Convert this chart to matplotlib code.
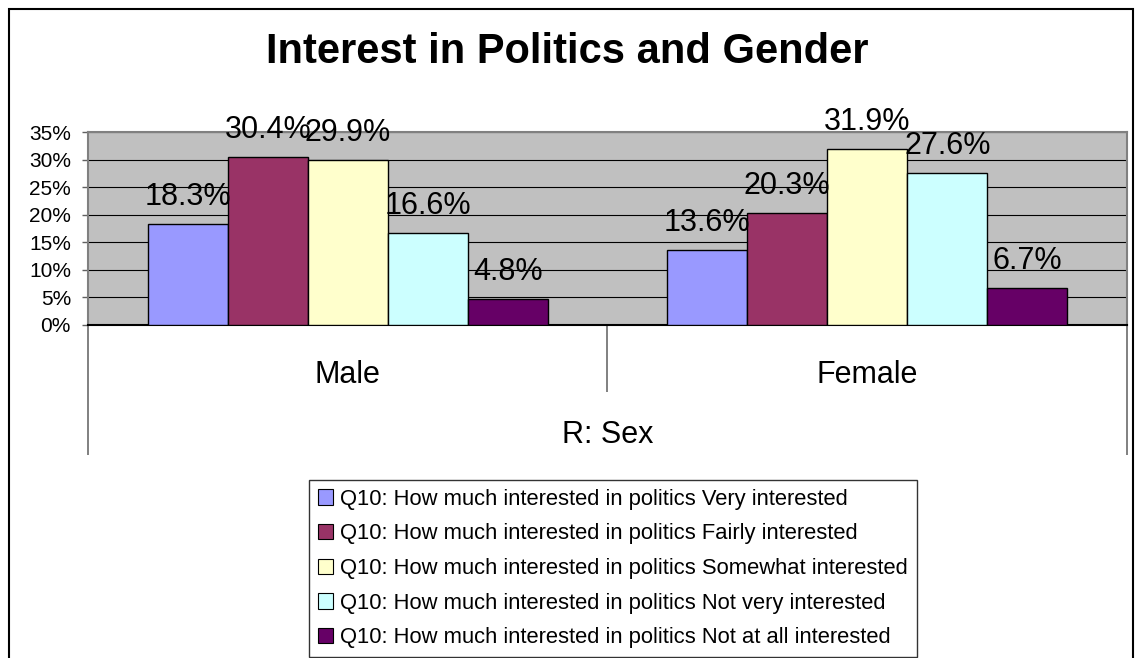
import numpy as np
import matplotlib
matplotlib.use('Agg')
import matplotlib.pyplot as plt
from matplotlib.patches import Rectangle, Patch

plt.rcParams['font.family'] = ['Liberation Sans', 'DejaVu Sans']

groups = ["Male", "Female"]
series = ["Q10: How much interested in politics Very interested",
          "Q10: How much interested in politics Fairly interested",
          "Q10: How much interested in politics Somewhat interested",
          "Q10: How much interested in politics Not very interested",
          "Q10: How much interested in politics Not at all interested"]
very = [18.3, 13.6]
fairly = [30.4, 20.3]
somewhat = [29.9, 31.9]
notvery = [16.6, 27.6]
notatall = [4.8, 6.7]
values = [very, fairly, somewhat, notvery, notatall]
colors = ["#9999FF", "#993366", "#FFFFCC", "#CCFFFF", "#660066"]
yticks = [0, 5, 10, 15, 20, 25, 30, 35]

fig = plt.figure(figsize=(11.35, 6.58), dpi=100)
ax = fig.add_axes([0.07753, 0.50608, 0.91542, 0.29331])
ax.set_facecolor("#C0C0C0")

x = np.arange(len(groups))
w = 0.154
for i, (vals, c) in enumerate(zip(values, colors)):
    pos = x + (i - 2) * w
    ax.bar(pos, vals, w, color=c, edgecolor="black", linewidth=1.0, zorder=3)
    for p, v in zip(pos, vals):
        ax.annotate("%.1f%%" % v, (p, v), xytext=(0, 13.7), textcoords="offset points",
                    ha="center", va="baseline", fontsize=22, zorder=4)

ax.set_xlim(-0.5, 1.5)
ax.set_ylim(0, 35)
ax.set_yticks(yticks)
ax.set_yticklabels(["%d%%" % t for t in yticks], fontsize=15)
ax.yaxis.grid(True, color="black", linewidth=0.8)
ax.set_axisbelow(True)
ax.tick_params(axis="y", direction="out", length=4.3, width=1, color="#606060", pad=8)

ax.set_xticks(x)
ax.set_xticklabels(groups, fontsize=22)
ax.tick_params(axis="x", length=0, pad=25)

for s in ["top", "right", "left"]:
    ax.spines[s].set_color("#808080")
    ax.spines[s].set_linewidth(1.5)
ax.spines["bottom"].set_color("black")
ax.spines["bottom"].set_linewidth(1.5)

# multi-level category dividers
tr = ax.get_xaxis_transform()
ax.vlines([0.5], -0.347, 0, transform=tr, clip_on=False, color="#808080", linewidth=1.4)
ax.vlines([-0.5, 1.5], -0.674, 0, transform=tr, clip_on=False, color="#808080", linewidth=1.4)

ax.annotate("R: Sex", (0.5, 0), xycoords="axes fraction", xytext=(0, -85),
            textcoords="offset points", ha="center", va="baseline", fontsize=22)

fig.text(0.5, 1 - 52 / 658, "Interest in Politics and Gender", ha="center", va="center",
         fontsize=30, fontweight="bold")

handles = [Patch(facecolor=c, edgecolor="black", linewidth=0.8) for c in colors]
leg = fig.legend(handles, series, loc="upper center", bbox_to_anchor=(0.540, 1 - 480 / 658),
                 fontsize=15.8, frameon=True, fancybox=False, edgecolor="black",
                 handlelength=0.7, handleheight=0.7, handletextpad=0.3, labelspacing=0.62,
                 borderpad=0.4, borderaxespad=0)
leg.get_frame().set_linewidth(1.0)

fig.add_artist(Rectangle((9 / 1135, -0.05), 1124 / 1135, 1 - 9 / 658 + 0.05,
                         transform=fig.transFigure, fill=False, edgecolor="black", linewidth=1.5))

fig.savefig("out.png", dpi=100)
